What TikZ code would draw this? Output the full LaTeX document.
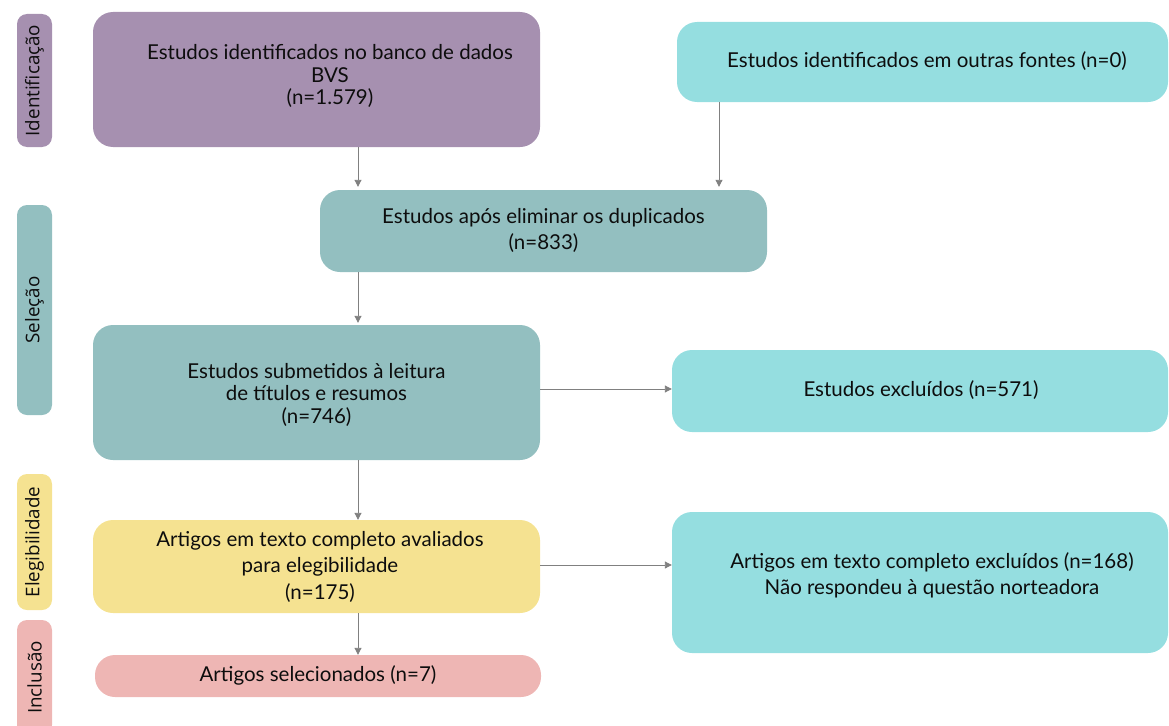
\documentclass[tikz,border=0pt]{standalone}
\usepackage{fontspec}
\setmainfont{Lato}
\newfontfamily\sidefont{Open Sans}
\usetikzlibrary{arrows.meta,calc}
\definecolor{cpurple}{HTML}{A690B0}
\definecolor{cteal}{HTML}{93BFC0}
\definecolor{ccyan}{HTML}{95DEE0}
\definecolor{cyellow}{HTML}{F5E291}
\definecolor{cpink}{HTML}{EEB6B4}
\definecolor{carrow}{HTML}{808080}
\tikzset{
  box/.style={draw=none, rounded corners=20pt, inner sep=0pt},
  txt/.style={inner sep=0pt, align=center, font=\fontsize{20.5}{22.5}\selectfont, text=black!95},
  side/.style={draw=none, rounded corners=10pt, inner sep=0pt, minimum height=35pt,
    rotate=90, font=\sidefont\fontsize{18.8}{22}\selectfont, text=black!95},
  arr/.style={draw=carrow, line width=0.9pt, -{Triangle[length=7pt,width=7pt]}}
}
\begin{document}
\begin{tikzpicture}[x=1pt,y=-1pt]
\useasboundingbox (0,0) rectangle (1169,725);
% side labels
\node[side, fill=cpurple, minimum width=133pt] (sid) at (34.5,80.5) {Identificação};
\node[side, fill=cteal, minimum width=210pt] (ssel) at (34.5,310) {Seleção};
\node[side, fill=cyellow, minimum width=136pt] (sele) at (34.5,542) {Elegibilidade};
\node[side, fill=cpink, minimum width=115pt] (sinc) at (34.5,677.5) {Inclusão};
% boxes
\node[box, fill=cpurple, minimum width=447pt, minimum height=135pt,
  label={[txt, xshift=13.5pt, yshift=3.5pt]center:{Estudos identificados no banco de dados\\BVS\\(n=1.579)}}] (bvs) at (316.5,79.5) {};
\node[box, fill=ccyan, minimum width=491pt, minimum height=80pt,
  label={[txt, xshift=4.5pt, yshift=1pt]center:{Estudos identificados em outras fontes (n=0)}}] (out) at (922.5,62) {};
\node[box, fill=cteal, minimum width=447pt, minimum height=82pt,
  label={[txt, yshift=1pt]center:{Estudos após eliminar os duplicados\\[3.5pt](n=833)}}] (dup) at (543.5,231) {};
\node[box, fill=cteal, minimum width=447pt, minimum height=135pt,
  label={[txt, yshift=-2pt]center:{Estudos submetidos à leitura\\de títulos e resumos\\(n=746)}}] (sub) at (316.5,392.5) {};
\node[box, fill=ccyan, minimum width=496pt, minimum height=82pt,
  label={[txt, xshift=1pt, yshift=1pt]center:{Estudos excluídos (n=571)}}] (exc) at (920,391) {};
\node[box, fill=cyellow, minimum width=447pt, minimum height=93pt,
  label={[txt, xshift=3.5pt]center:{Artigos em texto completo avaliados\\[4pt]para elegibilidade\\[4pt](n=175)}}] (ava) at (316.5,566.5) {};
\node[box, fill=ccyan, minimum width=496pt, minimum height=141pt,
  label={[txt, xshift=12pt, yshift=7.5pt]center:{Artigos em texto completo excluídos (n=168)\\[3.5pt]Não respondeu à questão norteadora}}] (exc2) at (920,582.5) {};
\node[box, fill=cpink, minimum width=446pt, minimum height=42pt,
  label={[txt, yshift=1pt]center:{Artigos selecionados (n=7)}}] (sel) at (318,676) {};
% connectors
\draw[arr] ([xshift=41.5pt]bvs.south) -- ([xshift=41.5pt,yshift=3pt]bvs.south |- dup.north);
\draw[arr] ([xshift=-203.5pt]out.south) -- ([xshift=-203.5pt,yshift=3pt]out.south |- dup.north);
\draw[arr] ([xshift=-185.5pt]dup.south) -- ([xshift=-185.5pt,yshift=2pt]dup.south |- sub.north);
\draw[arr] ([xshift=41.5pt]sub.south) -- ([xshift=41.5pt]sub.south |- ava.north);
\draw[arr] ([xshift=41.5pt]ava.south) -- ([xshift=41.5pt]ava.south |- sel.north);
\draw[arr] ([yshift=3.5pt]sub.east) -- ([yshift=3.5pt]sub.east -| exc.west);
\draw[arr] ([yshift=1.5pt]ava.east) -- ([yshift=1.5pt]ava.east -| exc2.west);
\end{tikzpicture}
\end{document}
